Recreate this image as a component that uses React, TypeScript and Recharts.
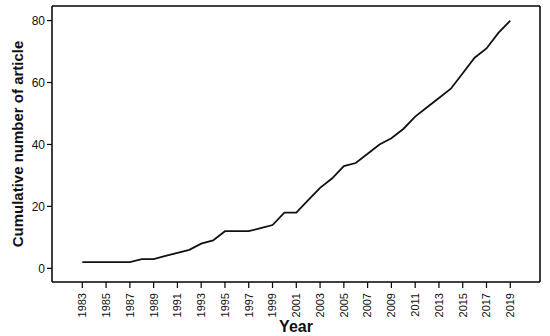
import React from 'react';
import { LineChart, Line, XAxis, YAxis, ReferenceLine } from 'recharts';

const years = [
  1983, 1984, 1985, 1986, 1987, 1988, 1989, 1990, 1991, 1992, 1993, 1994,
  1995, 1996, 1997, 1998, 1999, 2000, 2001, 2002, 2003, 2004, 2005, 2006,
  2007, 2008, 2009, 2010, 2011, 2012, 2013, 2014, 2015, 2016, 2017, 2018, 2019,
];
const cumulative = [
  2, 2, 2, 2, 2, 3, 3, 4, 5, 6, 8, 9,
  12, 12, 12, 13, 14, 18, 18, 22, 26, 29, 33, 34,
  37, 40, 42, 45, 49, 52, 55, 58, 63, 68, 71, 76, 80,
];
const xTicks = [1983, 1985, 1987, 1989, 1991, 1993, 1995, 1997, 1999, 2001, 2003, 2005, 2007, 2009, 2011, 2013, 2015, 2017, 2019];
const yTicks = [0, 20, 40, 60, 80];

const X_DOMAIN: [number, number] = [1980.45, 2021.5];
const Y_DOMAIN: [number, number] = [-4.4, 84.7];

const FONT = '"Liberation Sans", Arial, sans-serif';

const data = years.map((y, i) => ({ year: y, count: cumulative[i] }));

// vertical year labels, reading bottom to top
const YearTick = (props: any) => {
  const { x, y, payload } = props;
  return (
    <g transform={`translate(${x},${y + 3})`}>
      <text
        transform="rotate(-90)"
        textAnchor="end"
        dy="0.35em"
        fontSize={11}
        fontFamily={FONT}
        fill="#111"
      >
        {payload.value}
      </text>
    </g>
  );
};

const YLabel = (props: any) => {
  const { viewBox } = props;
  const cy = viewBox.y + viewBox.height / 2;
  return (
    <text
      x={17}
      y={cy}
      transform={`rotate(-90, 17, ${cy})`}
      textAnchor="middle"
      dominantBaseline="central"
      fontSize={15}
      fontWeight="bold"
      fontFamily={FONT}
      fill="#111"
    >
      Cumulative number of article
    </text>
  );
};

const App: React.FC = () => {
  return (
    <div style={{ position: 'absolute', left: 0, top: 0, width: 550, height: 336, background: '#fff' }}>
      <LineChart
        width={550}
        height={336}
        data={data}
        margin={{ top: 6, right: 10, left: 0, bottom: 0 }}
      >
        <XAxis
          dataKey="year"
          type="number"
          domain={X_DOMAIN}
          ticks={xTicks}
          allowDataOverflow
          height={54}
          axisLine={{ stroke: '#000', strokeWidth: 1.5 }}
          tickLine={{ stroke: '#000', strokeWidth: 1.2 }}
          tickSize={6}
          tick={<YearTick />}
          interval={0}
          label={{
            value: 'Year',
            position: 'insideBottom',
            offset: 4,
            style: { fontSize: 16, fontWeight: 'bold', fontFamily: FONT, fill: '#111' },
          }}
        />
        <YAxis
          type="number"
          domain={Y_DOMAIN}
          ticks={yTicks}
          allowDataOverflow
          width={52}
          axisLine={{ stroke: '#000', strokeWidth: 1.5 }}
          tickLine={{ stroke: '#000', strokeWidth: 1.2 }}
          tickSize={5}
          tick={{ fontSize: 12, fontFamily: FONT, fill: '#111' }}
          label={<YLabel />}
        />
        {/* top and right edges of the plot frame */}
        <ReferenceLine y={Y_DOMAIN[1]} stroke="#000" strokeWidth={1.5} ifOverflow="visible" />
        <ReferenceLine x={X_DOMAIN[1]} stroke="#000" strokeWidth={1.5} ifOverflow="visible" />
        <Line
          type="linear"
          dataKey="count"
          stroke="#111"
          strokeWidth={1.8}
          dot={false}
          isAnimationActive={false}
        />
      </LineChart>
    </div>
  );
};

export default App;
